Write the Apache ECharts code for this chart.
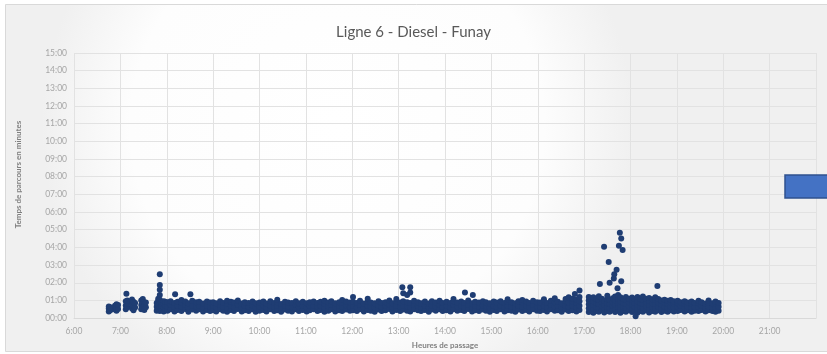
<!DOCTYPE html>
<html>
<head>
<meta charset="utf-8">
<script src="https://cdn.jsdelivr.net/npm/echarts@6/dist/echarts.min.js"></script>
<style>
  html, body { margin: 0; padding: 0; background: #ffffff; }
  #chart { width: 827px; height: 354px; }
</style>
</head>
<body>
<div id="chart"></div>
<script>
// Temps de parcours (minutes) par heure de passage.
// Chaque tableau couvre une heure : [minute de passage, temps relevés...]
const passages06h = [
  [45, .38, .55, .66], [47, .44, .62],
  [53, .48, .7], [55, .42, .6, .78], [57, .52, .74]
];
const passages07h = [
  [7, .5, .72, .95], [9, .62, .84, 1.0],
  [15, .55, .78, 1.05], [17, .45, .68, .92], [19, .6, .86],
  [27, .5, .74, 1.0], [29, .58, .82, 1.08], [31, .46, .7, .9], [33, .62, .88],
  [47, .42, .64, .86], [49, .5, .74, .98, 1.1], [51, .4, .62, .84, 1.04],
  [53, .46, .68, .9], [56, .38, .6, .82, .96], [58, .5, .72, .92]
];
const passages08h = [
  [1, .42, .66, .9], [5, .5, .74, .96], [10, .38, .62, .86], [14, .46, .7, .92],
  [19, .4, .64, .88, 1.02], [24, .52, .76, .94], [28, .36, .6, .84], [33, .48, .72, .98],
  [38, .42, .66, .9], [42, .5, .7, .92], [47, .38, .6, .82], [52, .46, .7, .94], [56, .4, .64, .88]
];
const passages09h = [
  [0, .44, .68, .9], [4, .38, .6, .84], [9, .5, .74, .96], [13, .42, .64, .86],
  [18, .36, .58, .8, .98], [23, .46, .7, .92], [27, .4, .62, .88], [32, .52, .76, 1.0],
  [37, .38, .6, .82], [41, .44, .68, .9], [46, .4, .64, .86], [51, .5, .72, .94], [55, .36, .6, .84]
];
const passages10h = [
  [0, .42, .66, .88], [5, .46, .7, .94], [9, .38, .6, .82], [14, .5, .72, .96],
  [19, .4, .64, .86], [23, .44, .68, .9, 1.04], [28, .36, .58, .8], [33, .48, .7, .92],
  [37, .42, .66, .88], [42, .38, .62, .86], [47, .5, .74, .96], [51, .4, .62, .84], [56, .46, .7, .92]
];
const passages11h = [
  [1, .38, .6, .84], [5, .44, .68, .9], [10, .5, .72, .94], [15, .4, .64, .86],
  [19, .46, .7, .92], [24, .36, .58, .82, .98], [29, .42, .66, .88], [33, .5, .74, .96],
  [38, .38, .62, .84], [43, .44, .68, .9], [47, .4, .64, .86, 1.02], [52, .48, .72, .94], [57, .42, .64, .88]
];
const passages12h = [
  [1, .44, .68, .92, 1.2], [6, .4, .62, .86], [10, .5, .74, .98], [15, .38, .6, .82],
  [20, .46, .7, .92, 1.1], [24, .42, .66, .88], [29, .36, .6, .84], [34, .48, .72, .96],
  [38, .4, .64, .86], [43, .44, .68, .9], [48, .52, .76, 1.0], [52, .38, .62, .84], [57, .46, .7, .94, 1.08]
];
const passages13h = [
  [2, .4, .64, .88], [6, .48, .72, .96, 1.4], [11, .42, .66, .9, 1.3], [15, .38, .6, .86, 1.45],
  [20, .5, .74, .98], [25, .44, .68, .9], [29, .4, .62, .84], [34, .46, .7, .94],
  [39, .36, .6, .82], [43, .48, .72, .96], [48, .42, .66, .88], [53, .5, .74, .98], [57, .4, .64, .86]
];
const passages14h = [
  [2, .44, .68, .92], [7, .38, .62, .86], [11, .5, .74, .96, 1.08], [16, .42, .64, .88],
  [21, .46, .7, .94], [25, .4, .62, .86], [30, .52, .76, 1.0], [35, .38, .6, .84],
  [39, .44, .68, .92], [44, .4, .64, .88], [49, .48, .72, .96], [53, .42, .66, .9], [58, .36, .6, .84]
];
const passages15h = [
  [3, .46, .7, .94], [7, .4, .64, .88], [12, .5, .72, .96], [17, .38, .62, .86],
  [21, .44, .68, .92, 1.06], [26, .42, .66, .9], [31, .36, .6, .84], [35, .48, .72, .96],
  [40, .4, .64, .88, 1.02], [45, .46, .7, .94], [49, .38, .62, .86], [54, .5, .74, .98], [59, .42, .66, .9]
];
const passages16h = [
  [3, .4, .64, .88], [8, .46, .7, .94, 1.06], [12, .38, .62, .86], [17, .5, .74, .98],
  [22, .42, .66, .9, 1.12], [26, .44, .68, .92], [31, .36, .6, .84], [36, .48, .72, .96, 1.08],
  [40, .4, .64, .88, 1.18], [45, .44, .7, .94, 1.1], [50, .38, .62, .86, 1.04], [54, .46, .7, .96, 1.2]
];
const passages17h = [
  [6, .34, .56, .78, 1.0, 1.2], [9, .42, .64, .88, 1.1], [12, .3, .52, .74, .96, 1.18],
  [16, .4, .62, .84, 1.06], [19, .36, .58, .8, 1.02, 1.24], [23, .44, .66, .88, 1.1],
  [26, .32, .54, .76, .98], [30, .4, .62, .84, 1.06, 1.26], [33, .36, .58, .8, 1.02],
  [37, .46, .68, .9, 1.12], [40, .34, .56, .78, 1.0, 1.22], [44, .42, .64, .86, 1.08, 1.3],
  [47, .3, .52, .74, .96, 1.18], [51, .4, .62, .84, 1.06], [54, .36, .58, .8, 1.02, 1.2],
  [58, .44, .66, .88, 1.1]
];
const passages18h = [
  [2, .34, .56, .78, 1.0, 1.16], [5, .42, .64, .86, 1.08], [9, .3, .52, .74, .96, 1.2],
  [13, .4, .62, .84, 1.06], [16, .36, .58, .8, 1.02, 1.22], [20, .44, .66, .88, 1.1],
  [24, .32, .54, .76, .98, 1.14], [28, .4, .62, .84, 1.06], [32, .36, .58, .8, 1.02, 1.18],
  [36, .44, .66, .88, 1.08], [40, .34, .56, .78, 1.0], [44, .42, .64, .86, 1.04],
  [48, .36, .58, .8, .98], [52, .44, .66, .88, 1.02], [56, .38, .6, .82, .96]
];
const passages19h = [
  [1, .4, .62, .84, .98], [5, .46, .68, .9], [10, .38, .6, .82, .96], [14, .44, .66, .88],
  [19, .36, .58, .8, .94], [23, .42, .64, .86], [28, .4, .62, .84, .98], [32, .46, .68, .9],
  [37, .38, .6, .82], [41, .44, .66, .88, 1.0], [46, .4, .62, .84], [50, .36, .58, .8, .94], [54, .42, .64, .86]
];

// Passages isolés : [heure décimale, temps en minutes]
const passagesIsoles = [
  [7.13, 1.38], [7.85, 2.48], [7.85, 1.87], [7.85, 1.6], [7.85, 1.3],
  [8.18, 1.35], [8.51, 1.35], [13.08, 1.74], [13.25, 1.74],
  [14.43, 1.45], [14.6, 1.3], [16.8, 1.37], [16.9, 1.56],
  [17.34, 1.93], [17.43, 4.04], [17.53, 3.17], [17.55, 2.0], [17.64, 2.24],
  [17.65, 2.48], [17.7, 2.74], [17.72, 1.69], [17.75, 4.09], [17.77, 4.83],
  [17.8, 4.5], [17.8, 2.09], [17.83, 3.85], [18.11, 0.11], [18.58, 1.82]
];

const heuresTicks = ['6:00', '7:00', '8:00', '9:00', '10:00', '11:00', '12:00', '13:00',
  '14:00', '15:00', '16:00', '17:00', '18:00', '19:00', '20:00', '21:00'];
const minutesTicks = ['00:00', '01:00', '02:00', '03:00', '04:00', '05:00', '06:00', '07:00',
  '08:00', '09:00', '10:00', '11:00', '12:00', '13:00', '14:00', '15:00'];

const parHeure = [
  [6, passages06h], [7, passages07h], [8, passages08h], [9, passages09h],
  [10, passages10h], [11, passages11h], [12, passages12h], [13, passages13h],
  [14, passages14h], [15, passages15h], [16, passages16h], [17, passages17h],
  [18, passages18h], [19, passages19h]
];

const points = [];
parHeure.forEach(([h, liste]) => {
  liste.forEach(([minute, ...temps]) => {
    temps.forEach(t => points.push([h + minute / 60, t]));
  });
});
passagesIsoles.forEach(p => points.push(p));

const police = 'Lato, "Open Sans", sans-serif';

const chart = echarts.init(document.getElementById('chart'), null, { renderer: 'canvas' });
chart.setOption({
  backgroundColor: '#ffffff',
  animation: false,
  title: {
    text: 'Ligne 6 - Diesel - Funay',
    left: 'center',
    top: 20,
    textStyle: { fontFamily: police, fontSize: 15, fontWeight: 'normal', color: '#595959' }
  },
  graphic: [
    {
      type: 'rect', z: -10, silent: true,
      shape: { x: 5.5, y: 4.5, width: 830, height: 347 },
      style: {
        fill: {
          type: 'radial', x: 0.4, y: 0.35, r: 0.85,
          colorStops: [
            { offset: 0, color: '#ffffff' },
            { offset: 0.7, color: '#fdfdfd' },
            { offset: 1, color: '#f0f0f0' }
          ]
        },
        stroke: '#d9d9d9', lineWidth: 1
      }
    },
    {
      type: 'rect', z: 10, silent: true,
      shape: { x: 785, y: 175, width: 50, height: 23 },
      style: { fill: '#4472c4', stroke: '#2f528f', lineWidth: 1.5 }
    }
  ],
  grid: { left: 74, right: 11, top: 53, bottom: 32, containLabel: false },
  xAxis: {
    type: 'value',
    min: 6, max: 22, interval: 1,
    name: 'Heures de passage',
    nameLocation: 'middle',
    nameGap: 22,
    nameTextStyle: { fontFamily: police, fontSize: 8, fontWeight: 'bold', color: '#7f7f7f' },
    axisLine: { show: true, lineStyle: { color: '#d9d9d9', width: 1 } },
    axisTick: { show: false },
    axisLabel: {
      showMaxLabel: false,
      margin: 9,
      fontFamily: police, fontSize: 8.5, color: '#a6a6a6',
      formatter: v => heuresTicks[Math.round(v) - 6] || ''
    },
    splitLine: { show: true, lineStyle: { color: '#e2e2e2', width: 1 } }
  },
  yAxis: {
    type: 'value',
    min: 0, max: 15, interval: 1,
    name: 'Temps de parcours en minutes',
    nameLocation: 'middle',
    nameGap: 52,
    nameRotate: 90,
    nameTextStyle: { fontFamily: police, fontSize: 8, fontWeight: 'bold', color: '#7f7f7f', padding: [0, 0, 0, 22] },
    axisLine: { show: false },
    axisTick: { show: false },
    axisLabel: {
      margin: 7,
      fontFamily: police, fontSize: 8.5, color: '#a6a6a6',
      formatter: v => minutesTicks[Math.round(v)] || ''
    },
    splitLine: { show: true, lineStyle: { color: '#e2e2e2', width: 1 } }
  },
  series: [{
    type: 'scatter',
    data: points,
    symbol: 'circle',
    symbolSize: 6,
    itemStyle: { color: '#1f3d73', opacity: 1 },
    clip: false
  }]
});
</script>
</body>
</html>
